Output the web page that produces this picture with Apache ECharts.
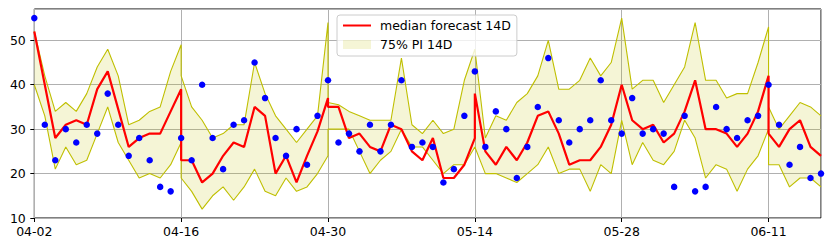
<!DOCTYPE html>
<html><head><meta charset="utf-8">
<script src="https://cdn.jsdelivr.net/npm/echarts@6/dist/echarts.min.js"></script>
<style>html,body{margin:0;padding:0;background:#fff}#c{width:830px;height:249px}</style>
</head><body><div id="c"></div>
<script>
// forecast windows start (days after 04-02)
const startDays = [0, 14, 28, 42, 56, 70];
const xTickLabels = ['04-02', '04-16', '04-30', '05-14', '05-28', '06-11'];
const yTicks = [10, 20, 30, 40, 50];

// observed daily values, 04-02 .. 06-16
const observed = [55,31,23,30,27,31,29,38,31,24,28,23,17,16,28,23,40,28,21,31,32,45,37,28,24,30,22,33,41,27,
  29,25,31,25,31,41,26,27,26,18,21,33,43,26,34,30,19,26,35,46,32,27,30,32,41,32,29,37,29,30,
  29,17,33,16,17,35,30,28,32,33,40,31,22,26,19,20];

// median forecast, one array per 14-day window
const medianWindows = [
  [52,40,28,31,32,31,39,43,34.5,26,28,29,29,34,39],
  [23,23,18,20,24,27,26,35,33,20,24,18,24,29.5,37],
  [35,35,28,29,26,25,31,30,25,23,28,19,19,22,28],
  [38,25,22,26,23,27,33,34,29,22,23,23,26,31,40],
  [40,32,30,31,27,29,34,41,30,30,29,26,29,34,42],
  [29,26,30,32,26,24]
];
// 75% prediction interval, upper bound
const upperWindows = [
  [52,42,34,36,34,38,44,48,42,31,32,34,35,43,49],
  [42,35,32,28,29,31,31,45,38,33,30,27,30,33,54],
  [36,35.5,34,33,32,32,32,46,31,29,32,29,30,41,48],
  [48,28,33,32,36,38,42,50,39,39,41,46,42,45,55],
  [55,39,41,41,36,40,44,54,41,41,37,38,38,45,53],
  [35,30,33,36,35,33]
];
// 75% prediction interval, lower bound
const lowerWindows = [
  [40,33,21,26,22,23,29,35,27,23,19,20,19,22,27],
  [19,16,12,15,17,14,17,21,16,15,19,16,17,20,24],
  [30,30,30,25,20,23,25,30,26,26,23,20,22,22,26],
  [26,20,20,19,18,20,22,26,20,21,21,16,22,20,32],
  [32,22,27,23,22,25,32,28,19,22,21,16,21,24,30],
  [22,22,17,19,19,17]
];

function concatWindows(wins) {
  const out = [];
  wins.forEach((arr, w) => arr.forEach((v, i) => out.push([startDays[w] + i, v])));
  return out;
}
const FONT = 'DejaVu Sans';
const bandFill = 'rgba(191,191,0,0.16)';
const bandEdge = '#bfbf00';

const chart = echarts.init(document.getElementById('c'), null, {renderer: 'svg'});
chart.setOption({
  animation: false,
  backgroundColor: '#fff',
  grid: {left: 34.3, right: 9, top: 9, bottom: 31, show: true, borderColor: '#000', borderWidth: 1, backgroundColor: 'transparent'},
  xAxis: {
    type: 'value', min: 0, max: observed.length - 1, interval: 14,
    axisLine: {show: false},
    axisTick: {show: true, inside: false, length: 4, lineStyle: {color: '#000', width: 1}},
    axisLabel: {showMaxLabel: false, margin: 7, color: '#000', fontFamily: FONT, fontSize: 12.5,
      formatter: v => (v % 14 === 0 ? xTickLabels[v / 14] : '')},
    splitLine: {show: true, lineStyle: {color: '#b0b0b0', width: 1}}
  },
  yAxis: {
    type: 'value', min: yTicks[0], max: 57.05, interval: 10,
    axisLine: {show: false},
    axisTick: {show: true, inside: false, length: 4, lineStyle: {color: '#000', width: 1}},
    axisLabel: {showMaxLabel: false, margin: 8.5, color: '#000', fontFamily: FONT, fontSize: 12.5},
    splitLine: {show: true, lineStyle: {color: '#b0b0b0', width: 1}}
  },
  legend: {
    left: 337, top: 15, orient: 'vertical',
    data: [
      {name: 'median forecast 14D', itemStyle: {color: 'rgba(0,0,0,0)', borderWidth: 0, opacity: 0}},
      {name: '75% PI 14D', icon: 'rect'}
    ],
    itemWidth: 28, itemHeight: 9, itemGap: 4,
    padding: [3, 6, 4, 5],
    backgroundColor: 'rgba(255,255,255,0.8)', borderColor: '#cccccc', borderWidth: 1, borderRadius: 3,
    textStyle: {fontFamily: FONT, fontSize: 12.5, color: '#000', padding: [0, 0, 0, 4], lineHeight: 15},
    selectedMode: false
  },
  series: [
    {
      type: 'custom', name: '75% PI 14D', silent: true, z: 1,
      itemStyle: {color: bandFill},
      data: startDays.map(s => [s, 30]),
      renderItem: (params, api) => {
        const w = params.dataIndex;
        const pts = [];
        upperWindows[w].forEach((v, i) => pts.push(api.coord([startDays[w] + i, v])));
        for (let i = lowerWindows[w].length - 1; i >= 0; i--) pts.push(api.coord([startDays[w] + i, lowerWindows[w][i]]));
        return {type: 'polygon', shape: {points: pts}, style: {fill: bandFill}};
      }
    },
    {type: 'line', name: 'upperEdge', data: concatWindows(upperWindows), showSymbol: false, symbol: 'none', z: 2,
      lineStyle: {color: bandEdge, width: 1.1}, silent: true},
    {type: 'line', name: 'lowerEdge', data: concatWindows(lowerWindows), showSymbol: false, symbol: 'none', z: 2,
      lineStyle: {color: bandEdge, width: 1.1}, silent: true},
    {type: 'line', name: 'median forecast 14D', data: concatWindows(medianWindows), showSymbol: false, symbol: 'none', z: 3,
      itemStyle: {color: '#ff0000'}, lineStyle: {color: '#ff0000', width: 2.2}, silent: true},
    {type: 'scatter', name: 'observed', data: observed.map((v, i) => [i, v]), symbolSize: 6.5, clip: false, z: 4,
      itemStyle: {color: '#0000ff', opacity: 1}, silent: true}
  ]
});
</script></body></html>
